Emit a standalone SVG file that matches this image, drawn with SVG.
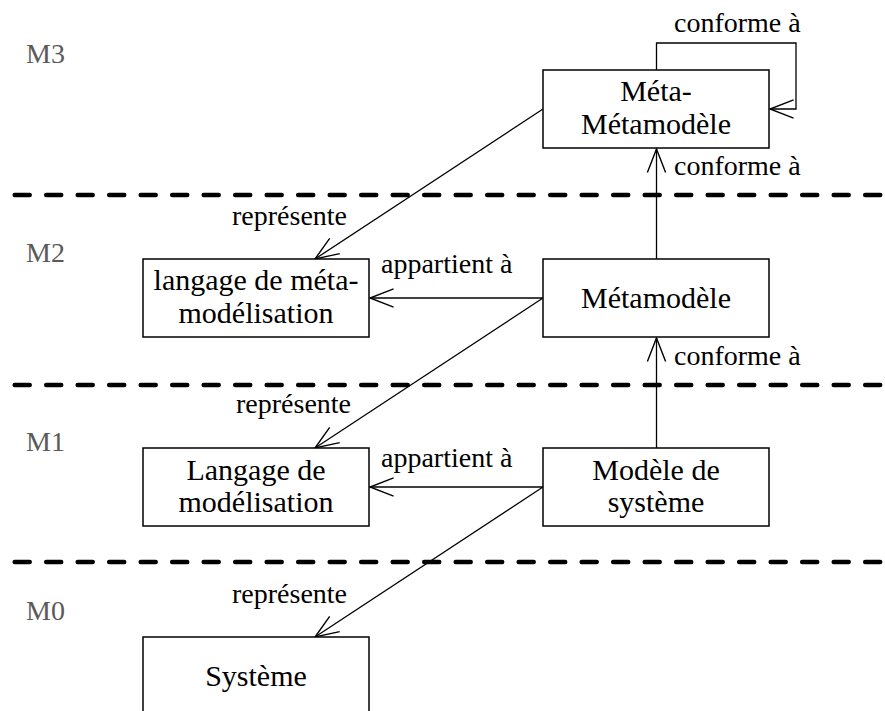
<svg xmlns="http://www.w3.org/2000/svg" width="885" height="711" viewBox="0 0 885 711">
<defs>
<marker id="open" markerUnits="userSpaceOnUse" markerWidth="30" markerHeight="30" viewBox="-25 -12 28 24" refX="0" refY="0" orient="auto">
<path d="M-22,-8.5 L0,0 L-22,8.5" fill="none" stroke="#000" stroke-width="1.3"/>
</marker>
</defs>
<style>
.box{fill:#fff;stroke:#000;stroke-width:1.5}
.nt{font-family:"Liberation Serif","Times New Roman",serif;font-size:30px;fill:#000;text-anchor:middle}
.lbl{font-family:"Liberation Serif","Times New Roman",serif;font-size:28px;fill:#000}
.lvl{font-family:"Liberation Serif","Times New Roman",serif;font-size:28px;fill:#5a5a5a}
.dash{stroke:#000;stroke-width:4.5;stroke-dasharray:15 16.5;stroke-linecap:round;fill:none}
.con{stroke:#000;stroke-width:1.3;fill:none;marker-end:url(#open)}
</style>
<rect width="885" height="711" fill="#fff"/>
<g id="levels">
<line class="dash" x1="14.7" y1="195" x2="885" y2="195"/>
<line class="dash" x1="14.7" y1="385" x2="885" y2="385"/>
<line class="dash" x1="14.7" y1="562" x2="885" y2="562"/>
<text class="lvl" x="26" y="63">M3</text>
<text class="lvl" x="26" y="262">M2</text>
<text class="lvl" x="26" y="451">M1</text>
<text class="lvl" x="26" y="620">M0</text>
</g>
<g id="connectors">
<path class="con" d="M656.5,70 V43 H796 V109 H770"/>
<path class="con" d="M656.5,259 V149"/>
<path class="con" d="M656.5,448 V338"/>
<path class="con" d="M543,109 L315,259"/>
<path class="con" d="M543,298 L370,298"/>
<path class="con" d="M543,298 L315,448"/>
<path class="con" d="M543,487 L370,487"/>
<path class="con" d="M543,487 L315,637"/>
<text class="lbl" x="674" y="32">conforme à</text>
<text class="lbl" x="674" y="175">conforme à</text>
<text class="lbl" x="674" y="365">conforme à</text>
<text class="lbl" x="232" y="225">représente</text>
<text class="lbl" x="236" y="413">représente</text>
<text class="lbl" x="232" y="603">représente</text>
<text class="lbl" x="381" y="273">appartient à</text>
<text class="lbl" x="381" y="467">appartient à</text>
</g>
<g id="meta-metamodele">
<rect class="box" x="543" y="70" width="226" height="78"/>
<text class="nt" x="656" y="101">Méta-</text>
<text class="nt" x="656" y="134">Métamodèle</text>
</g>
<g id="langage-meta">
<rect class="box" x="143" y="259" width="226" height="78"/>
<text class="nt" x="256" y="290">langage de méta-</text>
<text class="nt" x="256" y="323">modélisation</text>
</g>
<g id="metamodele">
<rect class="box" x="543" y="259" width="226" height="78"/>
<text class="nt" x="656" y="308">Métamodèle</text>
</g>
<g id="langage-modelisation">
<rect class="box" x="143" y="448" width="226" height="78"/>
<text class="nt" x="256" y="480">Langage de</text>
<text class="nt" x="256" y="512">modélisation</text>
</g>
<g id="modele-systeme">
<rect class="box" x="543" y="448" width="226" height="78"/>
<text class="nt" x="656" y="480">Modèle de</text>
<text class="nt" x="656" y="512">système</text>
</g>
<g id="systeme">
<rect class="box" x="143" y="637" width="226" height="78"/>
<text class="nt" x="256" y="686">Système</text>
</g>
</svg>
